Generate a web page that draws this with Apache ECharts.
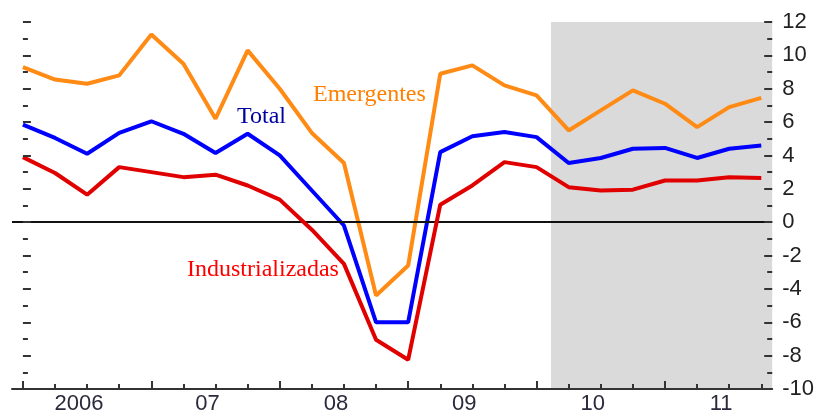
<!DOCTYPE html>
<html>
<head>
<meta charset="utf-8">
<script src="https://cdn.jsdelivr.net/npm/echarts@6/dist/echarts.min.js"></script>
<style>
  html, body { margin: 0; padding: 0; background: #fff; }
  #chart { width: 817px; height: 417px; }
</style>
</head>
<body>
<div id="chart"></div>
<script>
// quarterly growth, 2006Q1 .. 2011Q4
const yearLabels = ["2006", "07", "08", "09", "10", "11"]
const emergentes = [9.3, 8.55, 8.3, 8.8, 11.25, 9.5, 6.2, 10.3, 8.0, 5.35, 3.55, -4.4, -2.6, 8.9, 9.4, 8.2, 7.6, 5.5, 6.7, 7.9, 7.1, 5.7, 6.9, 7.45]
const total = [5.85, 5.05, 4.1, 5.35, 6.05, 5.3, 4.15, 5.3, 4.0, 1.9, -0.2, -6.0, -6.0, 4.2, 5.15, 5.4, 5.1, 3.55, 3.85, 4.4, 4.45, 3.85, 4.4, 4.6]
const industrializadas = [3.9, 2.95, 1.65, 3.3, 3.0, 2.7, 2.85, 2.2, 1.35, -0.45, -2.5, -7.05, -8.25, 1.05, 2.2, 3.6, 3.3, 2.1, 1.9, 1.95, 2.5, 2.5, 2.7, 2.65]
const forecastStart = 16.45

const quarters = emergentes.map((_, i) => i)
const yearStarts = yearLabels.map((_, i) => i * 4)
const labelPos = yearLabels.map((_, i) => i * 4 + 1.75)

const chart = echarts.init(document.getElementById("chart"))

const toPairs = (arr) => arr.map((v, i) => [i, v])

const tickStyle = { color: "#333", width: 2 }

chart.setOption({
  animation: false,
  grid: { left: 12, right: 42, top: 22, bottom: 28 },
  xAxis: [
    {
      type: "value",
      min: -0.34,
      max: 23.34,
      z: 10,
      splitLine: { show: false },
      axisLine: { onZero: false, lineStyle: { color: "#333", width: 2 } },
      axisTick: { inside: true, length: 5, customValues: quarters, lineStyle: tickStyle },
      axisLabel: {
        customValues: labelPos,
        margin: 4,
        fontSize: 22,
        fontFamily: "Liberation Sans, Arial, sans-serif",
        color: "#2a2a3a",
        formatter: (v) => yearLabels[Math.round((v - 1.75) / 4)],
      },
    },
    {
      type: "value",
      position: "bottom",
      min: -0.34,
      max: 23.34,
      z: 10,
      splitLine: { show: false },
      axisLine: { show: false, onZero: false },
      axisTick: { inside: true, length: 8, customValues: yearStarts, lineStyle: tickStyle },
      axisLabel: { show: false },
    },
  ],
  yAxis: [
    {
      type: "value",
      position: "left",
      min: -10,
      max: 12,
      interval: 2,
      z: 10,
      splitLine: { show: false },
      axisLine: { show: false },
      axisTick: { inside: true, length: 8, lineStyle: tickStyle },
      minorTick: { show: true, splitNumber: 2, length: 5, lineStyle: tickStyle },
      axisLabel: { show: false },
    },
    {
      type: "value",
      position: "right",
      min: -10,
      max: 12,
      interval: 2,
      z: 10,
      splitLine: { show: false },
      axisLine: { show: true, onZero: false, lineStyle: { color: "rgba(0,0,0,0)" } },
      axisTick: { show: true, inside: true, length: 8, lineStyle: tickStyle },
      minorTick: { show: true, splitNumber: 2, length: 5, lineStyle: tickStyle },
      axisLabel: {
        margin: 10,
        fontSize: 22,
        fontFamily: "Liberation Sans, Arial, sans-serif",
        color: "#222",
      },
    },
  ],
  series: [
    {
      name: "shade",
      type: "line",
      data: [],
      z: 1,
      markArea: {
        silent: true,
        itemStyle: { color: "#dadada" },
        data: [[{ xAxis: forecastStart, yAxis: 12 }, { xAxis: 23.34, yAxis: -10 }]],
      },
      markLine: {
        silent: true,
        symbol: "none",
        label: { show: false },
        lineStyle: { color: "#111", width: 2, type: "solid" },
        data: [{ yAxis: 0 }],
      },
    },
    {
      name: "Emergentes",
      type: "line",
      data: toPairs(emergentes),
      symbol: "none",
      lineStyle: { color: "#ff8a14", width: 4 },
      z: 3,
    },
    {
      name: "Total",
      type: "line",
      data: toPairs(total),
      symbol: "none",
      lineStyle: { color: "#0000ff", width: 4 },
      z: 4,
    },
    {
      name: "Industrializadas",
      type: "line",
      data: toPairs(industrializadas),
      symbol: "none",
      lineStyle: { color: "#e00000", width: 4 },
      z: 5,
    },
  ],
  graphic: [
    {
      type: "text",
      left: 313,
      top: 83,
      style: { text: "Emergentes", fill: "#ff7f00", font: "24px 'Liberation Serif', 'Times New Roman', serif" },
    },
    {
      type: "text",
      left: 237,
      top: 105,
      style: { text: "Total", fill: "#0000a0", font: "24px 'Liberation Serif', 'Times New Roman', serif" },
    },
    {
      type: "text",
      left: 187,
      top: 258,
      style: { text: "Industrializadas", fill: "#ff0000", font: "24px 'Liberation Serif', 'Times New Roman', serif" },
    },
  ],
})
</script>
</body>
</html>
